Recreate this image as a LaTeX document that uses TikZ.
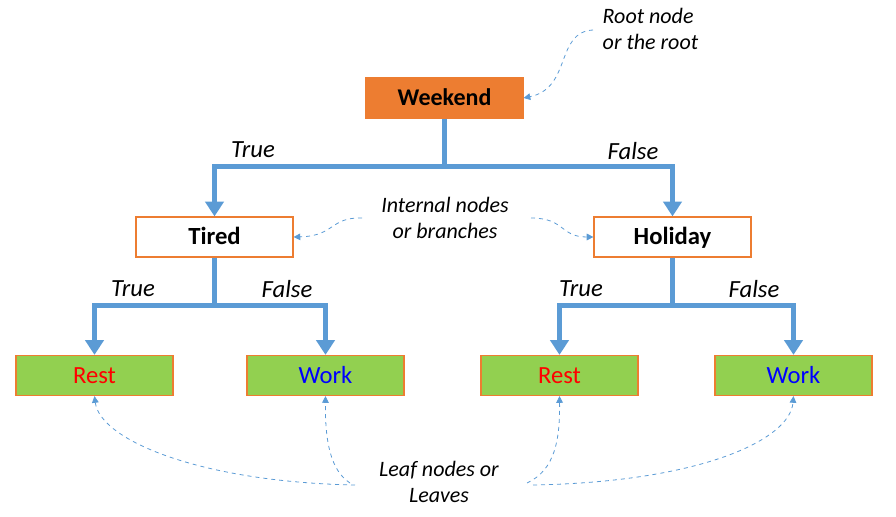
\documentclass[tikz,border=0pt]{standalone}
\usepackage{fontspec}
\setmainfont{Carlito}
\usetikzlibrary{arrows.meta}
\definecolor{boxorange}{HTML}{ED7D31}
\definecolor{leafgreen}{HTML}{92D050}
\definecolor{branchblue}{HTML}{5B9BD5}
\definecolor{leafblue}{HTML}{0000FF}
\definecolor{leafred}{HTML}{FF0000}
\tikzset{
  treebox/.style={rectangle,draw=boxorange,line width=0.9pt,minimum width=117.75pt,minimum height=30pt,inner sep=0pt,text height=11.8pt,text depth=0pt,font=\fontsize{18.5}{21}\selectfont},
  rootbox/.style={treebox,fill=boxorange,font=\fontsize{18}{21}\selectfont\bfseries},
  innerbox/.style={treebox,fill=white,font=\fontsize{18.5}{21}\selectfont\bfseries},
  leafbox/.style={treebox,fill=leafgreen},
  branch/.style={draw=branchblue,line width=4.3pt,-{Triangle[width=13.5pt,length=11pt]}},
  branchlabel/.style={font=\fontsize{18.5}{21}\selectfont\itshape},
  note/.style={font=\fontsize{16.5}{19.5}\selectfont\itshape},
  pointer/.style={draw=branchblue,line width=0.6pt,dashed,-{Triangle[width=5pt,length=5pt]}}
}
\begin{document}
\begin{tikzpicture}[x=0.75pt,y=-0.75pt]
\useasboundingbox (0,0) rectangle (896,517);
%nodes
        \node[rootbox]  (weekend) at (444.5,98)  {Weekend};
        \node[innerbox] (tired)   at (214.5,237) {Tired};
        \node[innerbox] (holiday) at (672.5,237) {Holiday};
        \node[leafbox]  (rest1)   at (94.5,375.5)  {\textcolor{leafred}{Rest}};
        \node[leafbox]  (work1)   at (325.5,375.5) {\textcolor{leafblue}{Work}};
        \node[leafbox]  (rest2)   at (559.5,375.5) {\textcolor{leafred}{Rest}};
        \node[leafbox]  (work2)   at (793.5,375.5) {\textcolor{leafblue}{Work}};
%branches
        \draw [branch] (weekend.south) -- ++(0,48) -| (tired.north);
        \draw [branch] (weekend.south) -- ++(0,48) -| (holiday.north);
        \draw [branch] (tired.south)   -- ++(0,48) -| (rest1.north);
        \draw [branch] (tired.south)   -- ++(0,48) -| (work1.north);
        \draw [branch] (holiday.south) -- ++(0,48) -| (rest2.north);
        \draw [branch] (holiday.south) -- ++(0,48) -| (work2.north);

        \node[branchlabel] (t1) at (253,150) {True};
        \node[branchlabel] (f1) at (633,151) {False};
        \node[branchlabel] (t2) at (133,289) {True};
        \node[branchlabel] (f2) at (287,289) {False};
        \node[branchlabel] (t3) at (581,289) {True};
        \node[branchlabel] (f3) at (754,289) {False};
%notes
        \node[note,align=left,anchor=west] (rootnote) at (598,29) {Root node\\or the root};
        \node[note,align=center] (innernote) at (445,218) {Internal nodes\\or branches};
        \node[note,align=center] (leafnote)  at (439,482) {Leaf nodes or\\Leaves};
        \coordinate (r0) at (593,30);
        \coordinate (i1) at (362,218);
        \coordinate (i2) at (531,218);
        \coordinate (l1) at (355,485);
        \coordinate (l2) at (350,483);
        \coordinate (l3) at (527,483);
        \coordinate (l4) at (533,485);
        \draw [pointer] (r0) .. controls (555,32) and (572,88) .. (weekend.east);
        \draw [pointer] (i1) .. controls (330,217) and (335,236) .. (tired.east);
        \draw [pointer] (i2) .. controls (565,218) and (560,237) .. (holiday.west);
        \draw [pointer] (l1) .. controls (200,482) and (100,440) .. (rest1.south);
        \draw [pointer] (l2) .. controls (330,470) and (325,440) .. (work1.south);
        \draw [pointer] (l3) .. controls (555,470) and (560,440) .. (rest2.south);
        \draw [pointer] (l4) .. controls (700,482) and (790,440) .. (work2.south);
\end{tikzpicture}
\end{document}
